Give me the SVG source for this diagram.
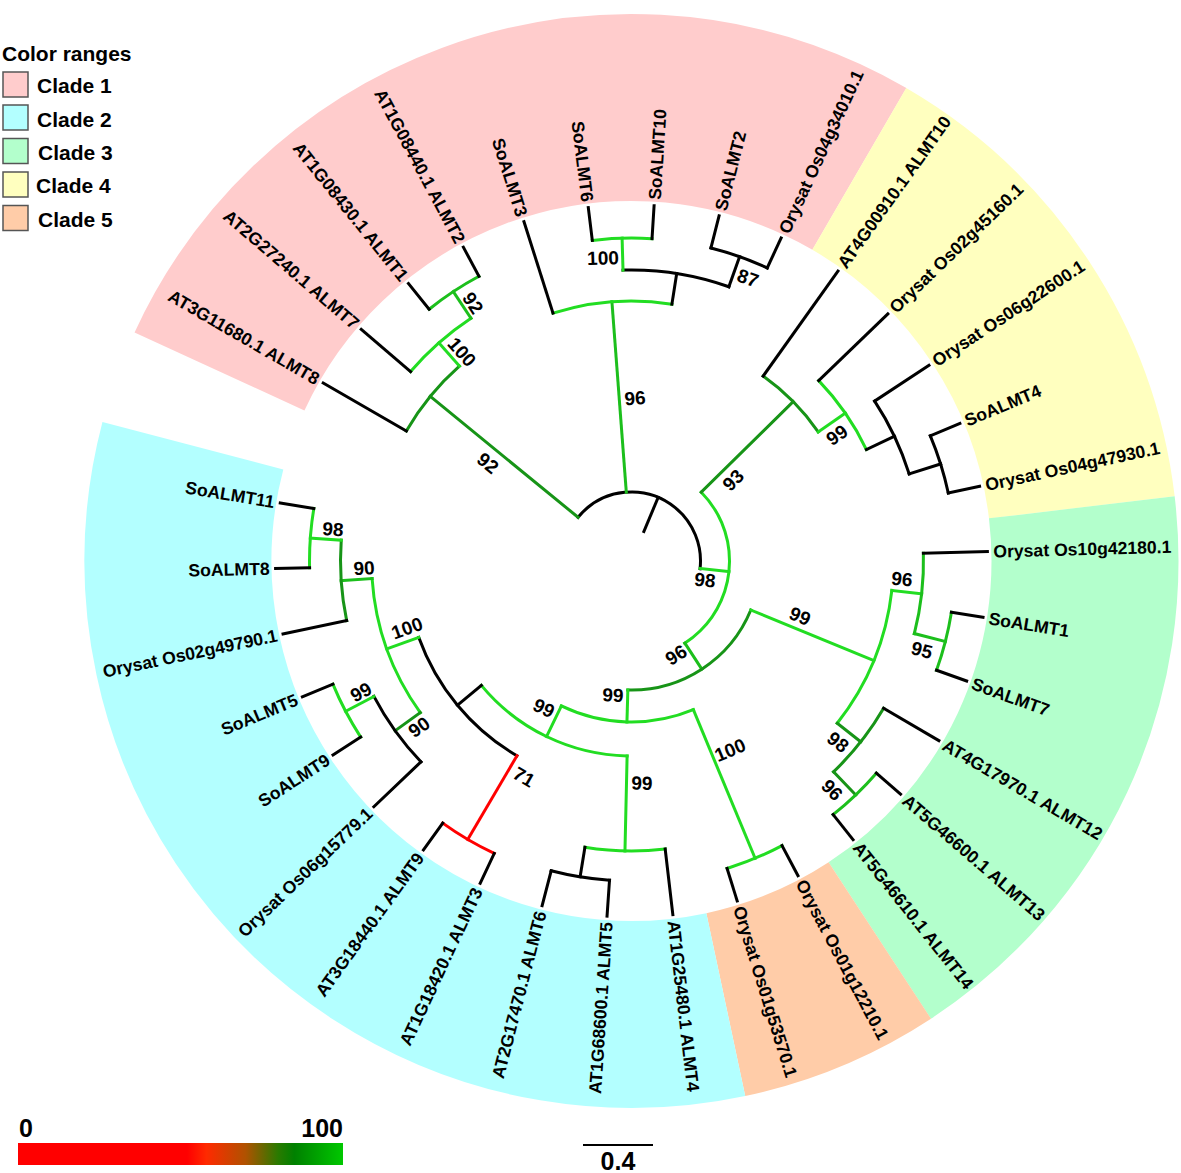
<svg xmlns="http://www.w3.org/2000/svg" width="1181" height="1173" viewBox="0 0 1181 1173">
<style>
.band{fill:none;stroke-width:187;stroke-linecap:butt}
.k,.g1,.g2,.g3,.r{fill:none;stroke-width:3;stroke-linecap:square}
.k{stroke:#000}.g1{stroke:#22dd22}.g2{stroke:#1cbf1c}.g3{stroke:#179417}.r{stroke:#ff0000}
text{font-family:"Liberation Sans",Arial,sans-serif;font-weight:bold;fill:#000}
.lf{font-size:17.6px}
.bs{font-size:19px;text-anchor:middle}
.lg{font-size:21px}
.sc{font-size:25px}
.c1{stroke:#ffcccc}.c2{stroke:#b3ffff}.c3{stroke:#b3ffcc}.c4{stroke:#ffffbf}.c5{stroke:#ffcca8}
.sq{stroke:#555;stroke-width:1.5}
</style>
<defs>
<linearGradient id="grad" x1="0" x2="1" y1="0" y2="0">
<stop offset="0" stop-color="#ff0000"/><stop offset="0.52" stop-color="#ff0000"/><stop offset="0.58" stop-color="#ff2a00"/><stop offset="0.7" stop-color="#b05200"/><stop offset="0.8" stop-color="#2a7a00"/><stop offset="0.85" stop-color="#008000"/><stop offset="1" stop-color="#00c800"/>
</linearGradient>
</defs>
<rect width="1181" height="1173" fill="#fff"/>
<g id="clade-ranges" transform="translate(631.5 561)">
<circle class="band c1" r="453.5" transform="rotate(204.7)" stroke-dasharray="755.5 3000"/>
<circle class="band c4" r="453.5" transform="rotate(-59.85)" stroke-dasharray="419.9 3000"/>
<circle class="band c3" r="453.5" transform="rotate(-6.8)" stroke-dasharray="503.4 3000"/>
<circle class="band c5" r="453.5" transform="rotate(56.8)" stroke-dasharray="167.8 3000"/>
<circle class="band c2" r="453.5" transform="rotate(78)" stroke-dasharray="923.7 3000"/>
</g>
<g id="connectors" transform="translate(631.5 561)">
<line class="k" y1="-32" y2="-69" transform="rotate(22.74)"/>
<circle class="k" r="69" transform="rotate(219.28)" stroke-dasharray="176.92 3000"/>
<line class="g3" y1="-69" y2="-260" transform="rotate(309.28)"/>
<circle class="g3" r="260" transform="rotate(210)" stroke-dasharray="84.22 3000"/>
<line class="g1" y1="-260" y2="-291" transform="rotate(318.56)"/>
<circle class="g1" r="291" transform="rotate(220.61)" stroke-dasharray="80.81 3000"/>
<line class="g2" y1="-291" y2="-323" transform="rotate(326.52)"/>
<circle class="g2" r="323" transform="rotate(231.21)" stroke-dasharray="59.81 3000"/>
<line class="k" y1="-260" y2="-356" transform="rotate(300)"/>
<line class="k" y1="-291" y2="-356" transform="rotate(310.61)"/>
<line class="k" y1="-323" y2="-356" transform="rotate(321.21)"/>
<line class="k" y1="-323" y2="-356" transform="rotate(331.82)"/>
<line class="g2" y1="-69" y2="-260" transform="rotate(355.68)"/>
<circle class="g1" r="260" transform="rotate(252.42)" stroke-dasharray="120.34 3000"/>
<line class="k" y1="-260" y2="-291" transform="rotate(8.94)"/>
<circle class="k" r="291" transform="rotate(268.33)" stroke-dasharray="107.77 3000"/>
<line class="g1" y1="-291" y2="-323" transform="rotate(358.33)"/>
<circle class="g1" r="323" transform="rotate(263.03)" stroke-dasharray="59.81 3000"/>
<line class="k" y1="-291" y2="-323" transform="rotate(19.55)"/>
<circle class="k" r="323" transform="rotate(-75.76)" stroke-dasharray="59.81 3000"/>
<line class="k" y1="-260" y2="-356" transform="rotate(342.42)"/>
<line class="k" y1="-323" y2="-356" transform="rotate(353.03)"/>
<line class="k" y1="-323" y2="-356" transform="rotate(3.64)"/>
<line class="k" y1="-323" y2="-356" transform="rotate(14.24)"/>
<line class="k" y1="-323" y2="-356" transform="rotate(24.85)"/>
<line class="g1" y1="-69" y2="-98" transform="rotate(96.19)"/>
<circle class="g1" r="98" transform="rotate(-44.6)" stroke-dasharray="173.76 3000"/>
<line class="g3" y1="-98" y2="-227" transform="rotate(45.4)"/>
<circle class="g3" r="227" transform="rotate(-54.55)" stroke-dasharray="78.8 3000"/>
<line class="g1" y1="-227" y2="-260" transform="rotate(55.34)"/>
<circle class="g1" r="260" transform="rotate(-43.94)" stroke-dasharray="84.22 3000"/>
<line class="k" y1="-260" y2="-291" transform="rotate(64.62)"/>
<circle class="k" r="291" transform="rotate(-33.33)" stroke-dasharray="80.81 3000"/>
<line class="k" y1="-291" y2="-324" transform="rotate(72.58)"/>
<circle class="k" r="324" transform="rotate(-22.73)" stroke-dasharray="60 3000"/>
<line class="k" y1="-227" y2="-356" transform="rotate(35.45)"/>
<line class="k" y1="-260" y2="-356" transform="rotate(46.06)"/>
<line class="k" y1="-291" y2="-356" transform="rotate(56.67)"/>
<line class="k" y1="-324" y2="-356" transform="rotate(67.27)"/>
<line class="k" y1="-324" y2="-356" transform="rotate(77.88)"/>
<line class="g2" y1="-98" y2="-129" transform="rotate(146.99)"/>
<circle class="g3" r="129" transform="rotate(22.35)" stroke-dasharray="155.96 3000"/>
<line class="g1" y1="-129" y2="-262" transform="rotate(112.35)"/>
<circle class="g1" r="262" transform="rotate(6.44)" stroke-dasharray="145.5 3000"/>
<line class="g1" y1="-262" y2="-292" transform="rotate(96.44)"/>
<circle class="g2" r="292" transform="rotate(-1.52)" stroke-dasharray="81.08 3000"/>
<line class="g2" y1="-292" y2="-324" transform="rotate(104.39)"/>
<circle class="g2" r="324" transform="rotate(9.09)" stroke-dasharray="60 3000"/>
<line class="g3" y1="-262" y2="-292" transform="rotate(128.26)"/>
<circle class="g3" r="292" transform="rotate(30.3)" stroke-dasharray="81.08 3000"/>
<line class="g3" y1="-292" y2="-324" transform="rotate(136.21)"/>
<circle class="g2" r="324" transform="rotate(40.91)" stroke-dasharray="60 3000"/>
<line class="k" y1="-292" y2="-356" transform="rotate(88.48)"/>
<line class="k" y1="-324" y2="-356" transform="rotate(99.09)"/>
<line class="k" y1="-324" y2="-356" transform="rotate(109.7)"/>
<line class="k" y1="-292" y2="-356" transform="rotate(120.3)"/>
<line class="k" y1="-324" y2="-356" transform="rotate(130.91)"/>
<line class="k" y1="-324" y2="-356" transform="rotate(141.51)"/>
<line class="g1" y1="-129" y2="-161" transform="rotate(181.62)"/>
<circle class="g1" r="161" transform="rotate(67.42)" stroke-dasharray="136 3000"/>
<line class="g1" y1="-161" y2="-322" transform="rotate(157.42)"/>
<circle class="g1" r="322" transform="rotate(62.12)" stroke-dasharray="59.63 3000"/>
<line class="k" y1="-322" y2="-356" transform="rotate(152.12)"/>
<line class="k" y1="-322" y2="-356" transform="rotate(162.73)"/>
<line class="g1" y1="-161" y2="-195" transform="rotate(205.82)"/>
<circle class="g1" r="195" transform="rotate(91.29)" stroke-dasharray="166.94 3000"/>
<line class="g1" y1="-195" y2="-290" transform="rotate(181.29)"/>
<circle class="g1" r="290" transform="rotate(83.33)" stroke-dasharray="80.53 3000"/>
<line class="k" y1="-290" y2="-320" transform="rotate(189.24)"/>
<circle class="k" r="320" transform="rotate(93.94)" stroke-dasharray="59.2 3000"/>
<line class="k" y1="-290" y2="-356" transform="rotate(173.33)"/>
<line class="k" y1="-320" y2="-356" transform="rotate(183.94)"/>
<line class="k" y1="-320" y2="-356" transform="rotate(194.54)"/>
<line class="k" y1="-195" y2="-226" transform="rotate(230.34)"/>
<circle class="k" r="226" transform="rotate(120.46)" stroke-dasharray="156.87 3000"/>
<line class="r" y1="-226" y2="-323" transform="rotate(210.46)"/>
<circle class="r" r="323" transform="rotate(115.15)" stroke-dasharray="59.81 3000"/>
<line class="k" y1="-323" y2="-356" transform="rotate(205.15)"/>
<line class="k" y1="-323" y2="-356" transform="rotate(215.76)"/>
<line class="g1" y1="-226" y2="-260" transform="rotate(250.23)"/>
<circle class="g1" r="260" transform="rotate(144.32)" stroke-dasharray="144.39 3000"/>
<line class="g2" y1="-260" y2="-291" transform="rotate(266.14)"/>
<circle class="g3" r="291" transform="rotate(168.18)" stroke-dasharray="80.81 3000"/>
<line class="g1" y1="-291" y2="-322" transform="rotate(274.09)"/>
<circle class="g1" r="322" transform="rotate(178.79)" stroke-dasharray="59.57 3000"/>
<line class="k" y1="-291" y2="-356" transform="rotate(258.18)"/>
<line class="k" y1="-322" y2="-356" transform="rotate(268.79)"/>
<line class="k" y1="-322" y2="-356" transform="rotate(279.39)"/>
<line class="g3" y1="-260" y2="-291" transform="rotate(234.32)"/>
<circle class="k" r="291" transform="rotate(136.36)" stroke-dasharray="80.81 3000"/>
<line class="g1" y1="-291" y2="-323" transform="rotate(242.27)"/>
<circle class="g1" r="323" transform="rotate(146.97)" stroke-dasharray="59.81 3000"/>
<line class="k" y1="-291" y2="-356" transform="rotate(226.36)"/>
<line class="k" y1="-323" y2="-356" transform="rotate(236.97)"/>
<line class="k" y1="-323" y2="-356" transform="rotate(247.58)"/>
</g>
<g id="leaves" transform="translate(631.5 561)">
<g id="leaf-ALMT8"><text class="lf" transform="rotate(30)" x="-362" dy="0.35em" text-anchor="end">AT3G11680.1 ALMT8</text></g>
<g id="leaf-ALMT7"><text class="lf" transform="rotate(40.61)" x="-362" dy="0.35em" text-anchor="end">AT2G27240.1 ALMT7</text></g>
<g id="leaf-ALMT1"><text class="lf" transform="rotate(51.21)" x="-362" dy="0.35em" text-anchor="end">AT1G08430.1 ALMT1</text></g>
<g id="leaf-ALMT2"><text class="lf" transform="rotate(61.82)" x="-362" dy="0.35em" text-anchor="end">AT1G08440.1 ALMT2</text></g>
<g id="leaf-SoALMT3"><text class="lf" transform="rotate(72.42)" x="-362" dy="0.35em" text-anchor="end">SoALMT3</text></g>
<g id="leaf-SoALMT6"><text class="lf" transform="rotate(83.03)" x="-362" dy="0.35em" text-anchor="end">SoALMT6</text></g>
<g id="leaf-SoALMT10"><text class="lf" transform="rotate(-86.36)" x="362" dy="0.35em">SoALMT10</text></g>
<g id="leaf-SoALMT2"><text class="lf" transform="rotate(-75.76)" x="362" dy="0.35em">SoALMT2</text></g>
<g id="leaf-Os04g34010"><text class="lf" transform="rotate(-65.15)" x="362" dy="0.35em">Orysat Os04g34010.1</text></g>
<g id="leaf-ALMT10"><text class="lf" transform="rotate(-54.55)" x="362" dy="0.35em">AT4G00910.1 ALMT10</text></g>
<g id="leaf-Os02g45160"><text class="lf" transform="rotate(-43.94)" x="362" dy="0.35em">Orysat Os02g45160.1</text></g>
<g id="leaf-Os06g22600"><text class="lf" transform="rotate(-33.33)" x="362" dy="0.35em">Orysat Os06g22600.1</text></g>
<g id="leaf-SoALMT4"><text class="lf" transform="rotate(-22.73)" x="362" dy="0.35em">SoALMT4</text></g>
<g id="leaf-Os04g47930"><text class="lf" transform="rotate(-12.12)" x="362" dy="0.35em">Orysat Os04g47930.1</text></g>
<g id="leaf-Os10g42180"><text class="lf" transform="rotate(-1.52)" x="362" dy="0.35em">Orysat Os10g42180.1</text></g>
<g id="leaf-SoALMT1"><text class="lf" transform="rotate(9.09)" x="362" dy="0.35em">SoALMT1</text></g>
<g id="leaf-SoALMT7"><text class="lf" transform="rotate(19.7)" x="362" dy="0.35em">SoALMT7</text></g>
<g id="leaf-ALMT12"><text class="lf" transform="rotate(30.3)" x="362" dy="0.35em">AT4G17970.1 ALMT12</text></g>
<g id="leaf-ALMT13"><text class="lf" transform="rotate(40.91)" x="362" dy="0.35em">AT5G46600.1 ALMT13</text></g>
<g id="leaf-ALMT14"><text class="lf" transform="rotate(51.51)" x="362" dy="0.35em">AT5G46610.1 ALMT14</text></g>
<g id="leaf-Os01g12210"><text class="lf" transform="rotate(62.12)" x="362" dy="0.35em">Orysat Os01g12210.1</text></g>
<g id="leaf-Os01g53570"><text class="lf" transform="rotate(72.73)" x="362" dy="0.35em">Orysat Os01g53570.1</text></g>
<g id="leaf-ALMT4"><text class="lf" transform="rotate(83.33)" x="362" dy="0.35em">AT1G25480.1 ALMT4</text></g>
<g id="leaf-ALMT5"><text class="lf" transform="rotate(-86.06)" x="-362" dy="0.35em" text-anchor="end">AT1G68600.1 ALMT5</text></g>
<g id="leaf-ALMT6"><text class="lf" transform="rotate(-75.46)" x="-362" dy="0.35em" text-anchor="end">AT2G17470.1 ALMT6</text></g>
<g id="leaf-ALMT3"><text class="lf" transform="rotate(-64.85)" x="-362" dy="0.35em" text-anchor="end">AT1G18420.1 ALMT3</text></g>
<g id="leaf-ALMT9"><text class="lf" transform="rotate(-54.24)" x="-362" dy="0.35em" text-anchor="end">AT3G18440.1 ALMT9</text></g>
<g id="leaf-Os06g15779"><text class="lf" transform="rotate(-43.64)" x="-362" dy="0.35em" text-anchor="end">Orysat Os06g15779.1</text></g>
<g id="leaf-SoALMT9"><text class="lf" transform="rotate(-33.03)" x="-362" dy="0.35em" text-anchor="end">SoALMT9</text></g>
<g id="leaf-SoALMT5"><text class="lf" transform="rotate(-22.42)" x="-362" dy="0.35em" text-anchor="end">SoALMT5</text></g>
<g id="leaf-Os02g49790"><text class="lf" transform="rotate(-11.82)" x="-362" dy="0.35em" text-anchor="end">Orysat Os02g49790.1</text></g>
<g id="leaf-SoALMT8"><text class="lf" transform="rotate(-1.21)" x="-362" dy="0.35em" text-anchor="end">SoALMT8</text></g>
<g id="leaf-SoALMT11"><text class="lf" transform="rotate(9.39)" x="-362" dy="0.35em" text-anchor="end">SoALMT11</text></g>
</g>
<g id="bootstrap">
<g id="node-96a"><text class="bs" transform="translate(635 398) rotate(-4.3)" dy="0.35em">96</text></g>
<g id="node-100b"><text class="bs" transform="translate(603 258) rotate(-1.7)" dy="0.35em">100</text></g>
<g id="node-87"><text class="bs" transform="translate(748 278) rotate(19.5)" dy="0.35em">87</text></g>
<g id="node-92u"><text class="bs" transform="translate(473 303) rotate(56.5)" dy="0.35em">92</text></g>
<g id="node-100a"><text class="bs" transform="translate(462 352) rotate(48.6)" dy="0.35em">100</text></g>
<g id="node-92m"><text class="bs" transform="translate(488 463) rotate(39.3)" dy="0.35em">92</text></g>
<g id="node-93"><text class="bs" transform="translate(733 480) rotate(-44.6)" dy="0.35em">93</text></g>
<g id="node-99e"><text class="bs" transform="translate(837 435) rotate(-34.7)" dy="0.35em">99</text></g>
<g id="node-98"><text class="bs" transform="translate(705 580) rotate(6.2)" dy="0.35em">98</text></g>
<g id="node-96"><text class="bs" transform="translate(676 655) rotate(-33)" dy="0.35em">96</text></g>
<g id="node-99b"><text class="bs" transform="translate(613 695) rotate(1.6)" dy="0.35em">99</text></g>
<g id="node-99c"><text class="bs" transform="translate(544 708) rotate(25.8)" dy="0.35em">99</text></g>
<g id="node-99f"><text class="bs" transform="translate(642 783) rotate(1.3)" dy="0.35em">99</text></g>
<g id="node-100c"><text class="bs" transform="translate(730 750) rotate(-22.6)" dy="0.35em">100</text></g>
<g id="node-71"><text class="bs" transform="translate(524 777) rotate(30.5)" dy="0.35em">71</text></g>
<g id="node-100L"><text class="bs" transform="translate(407 628) rotate(-19.8)" dy="0.35em">100</text></g>
<g id="node-90a"><text class="bs" transform="translate(364 568) rotate(-3.9)" dy="0.35em">90</text></g>
<g id="node-98a"><text class="bs" transform="translate(333 529) rotate(4.1)" dy="0.35em">98</text></g>
<g id="node-99d"><text class="bs" transform="translate(361 692) rotate(-27.7)" dy="0.35em">99</text></g>
<g id="node-90b"><text class="bs" transform="translate(419 727) rotate(-35.7)" dy="0.35em">90</text></g>
<g id="node-99g"><text class="bs" transform="translate(800 616) rotate(22.4)" dy="0.35em">99</text></g>
<g id="node-96c"><text class="bs" transform="translate(902 579) rotate(6.4)" dy="0.35em">96</text></g>
<g id="node-95"><text class="bs" transform="translate(922 650) rotate(14.4)" dy="0.35em">95</text></g>
<g id="node-98d"><text class="bs" transform="translate(838 742) rotate(38.3)" dy="0.35em">98</text></g>
<g id="node-96d"><text class="bs" transform="translate(832 790) rotate(46.2)" dy="0.35em">96</text></g>
</g>
<g id="legend">
<text class="lg" x="2" y="61">Color ranges</text>
<rect class="sq" x="3" y="72" width="25" height="25" fill="#ffcccc"/>
<rect class="sq" x="3" y="105" width="25" height="25" fill="#b3ffff"/>
<rect class="sq" x="3" y="138.5" width="25" height="25" fill="#b3ffcc"/>
<rect class="sq" x="3" y="172" width="25" height="25" fill="#ffffbf"/>
<rect class="sq" x="3" y="205.5" width="25" height="25" fill="#ffcca8"/>
<text class="lg" x="37" y="93">Clade 1</text>
<text class="lg" x="37" y="127">Clade 2</text>
<text class="lg" x="38" y="160">Clade 3</text>
<text class="lg" x="36" y="193">Clade 4</text>
<text class="lg" x="38" y="227">Clade 5</text>
</g>
<g id="colorbar">
<rect x="18" y="1143" width="325" height="22" fill="url(#grad)"/>
<text class="sc" x="19" y="1137">0</text>
<text class="sc" x="343" y="1137" text-anchor="end">100</text>
</g>
<g id="scalebar">
<line x1="583" y1="1145" x2="653" y2="1145" stroke="#000" stroke-width="2"/>
<text class="sc" x="618" y="1170" text-anchor="middle">0.4</text>
</g>
</svg>
